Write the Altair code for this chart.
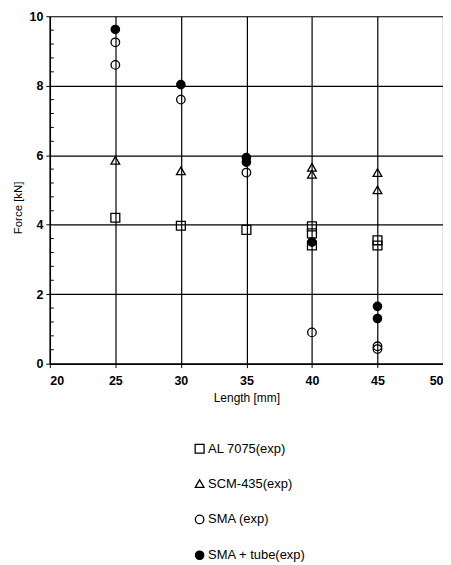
import altair as alt
import pandas as pd

series = ["AL 7075(exp)", "SCM-435(exp)", "SMA (exp)", "SMA + tube(exp)"]

al_len = [25, 30, 35, 40, 40, 40, 45, 45]
al_force = [4.2, 3.97, 3.85, 3.95, 3.75, 3.4, 3.55, 3.4]

scm_len = [25, 30, 40, 40, 45, 45]
scm_force = [5.85, 5.55, 5.65, 5.45, 5.5, 5.0]

sma_len = [25, 25, 30, 35, 40, 45, 45]
sma_force = [9.25, 8.6, 7.6, 5.5, 0.9, 0.5, 0.42]

tube_len = [25, 30, 35, 35, 40, 45, 45]
tube_force = [9.62, 8.03, 5.93, 5.8, 3.5, 1.65, 1.3]

x_ticks = [20, 25, 30, 35, 40, 45, 50]
y_ticks = [0, 2, 4, 6, 8, 10]
y_minor = [0.4, 0.8, 1.2, 1.6, 2.4, 2.8, 3.2, 3.6, 4.4, 4.8, 5.2, 5.6,
           6.4, 6.8, 7.2, 7.6, 8.4, 8.8, 9.2, 9.6]

rows = []
for name, xs, ys in [(series[0], al_len, al_force), (series[1], scm_len, scm_force),
                     (series[2], sma_len, sma_force), (series[3], tube_len, tube_force)]:
    for a, b in zip(xs, ys):
        rows.append({"Length": a, "Force": b, "Series": name})
df = pd.DataFrame(rows)
minor_df = pd.DataFrame({"Force": y_minor})

FONT = "Liberation Sans"
xs_scale = alt.Scale(domain=[20, 50], nice=False)
ys_scale = alt.Scale(domain=[0, 10], nice=False)

x_enc = alt.X("Length:Q", scale=xs_scale,
              axis=alt.Axis(values=x_ticks, title="Length [mm]", grid=True,
                            gridColor="black", gridWidth=1.2, domainColor="black",
                            domainWidth=1.5, tickColor="black", tickSize=4,
                            labelFont=FONT, labelFontSize=12.5, labelFontWeight="bold",
                            labelColor="black", labelPadding=7,
                            titleFont=FONT, titleFontSize=12, titleFontWeight="normal",
                            titleColor="black", titlePadding=6))

y_enc = alt.Y("Force:Q", scale=ys_scale,
              axis=alt.Axis(values=y_ticks, title="Force [kN]", grid=True,
                            gridColor="black", gridWidth=1.2, domainColor="black",
                            domainWidth=1.5, tickColor="black", tickSize=4,
                            labelFont=FONT, labelFontSize=12.5, labelFontWeight="bold",
                            labelColor="black", labelPadding=3,
                            titleFont=FONT, titleFontSize=11.5, titleFontWeight="normal",
                            titleColor="black", titlePadding=6, titleY=192))

leg = alt.Legend(title=None, orient="none", legendX=144, legendY=428,
                 direction="vertical", labelFont=FONT,
                 labelFontSize=13, labelColor="black",
                 symbolStrokeWidth=1.3, rowPadding=21,
                 labelOffset=2, padding=0)

points = alt.Chart(df).mark_point(strokeWidth=1.3, opacity=1, filled=False).encode(
    x=x_enc,
    y=y_enc,
    shape=alt.Shape("Series:N",
                    scale=alt.Scale(domain=series,
                                    range=["square", "triangle-up", "circle", "circle"]),
                    legend=leg),
    fill=alt.Fill("Series:N",
                  scale=alt.Scale(domain=series,
                                  range=["transparent", "transparent", "transparent", "black"]),
                  legend=leg),
    stroke=alt.Stroke("Series:N",
                      scale=alt.Scale(domain=series,
                                      range=["black", "black", "black", "black"]),
                      legend=leg),
    size=alt.Size("Series:N",
                  scale=alt.Scale(domain=series, range=[80, 70, 55, 70]),
                  legend=leg),
)

minor = alt.Chart(minor_df).mark_rule(color="black", strokeWidth=1).encode(
    y=alt.Y("Force:Q", scale=ys_scale),
    x=alt.value(0),
    x2=alt.value(4),
)

chart = alt.layer(points, minor).properties(
    width=395, height=349,
    padding={"left": 42, "top": 7, "right": 0, "bottom": 200},
    autosize=alt.AutoSizeParams(type="none"),
).configure_view(stroke="black", strokeWidth=1.2).configure(background="white")

chart.save("out.html", embed_options={"renderer": "svg", "actions": False})
